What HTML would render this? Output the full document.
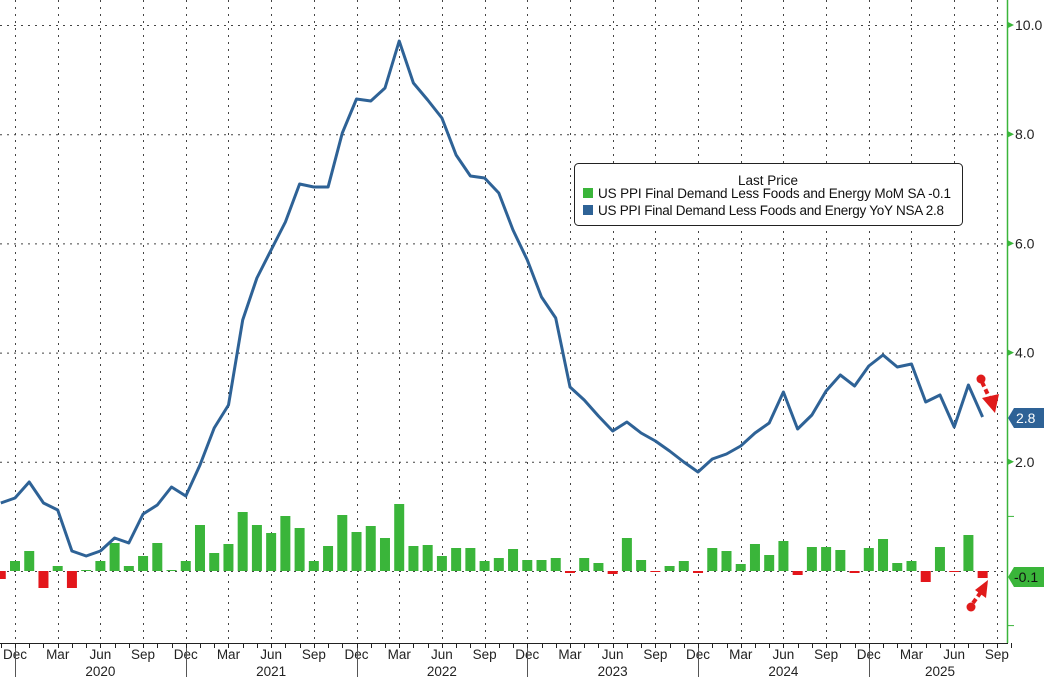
<!DOCTYPE html>
<html><head><meta charset="utf-8"><style>
html,body{margin:0;padding:0;background:#fff;}
svg{display:block;font-family:"Liberation Sans",sans-serif;}
</style></head><body>
<svg id="c" width="1044" height="677" xmlns="http://www.w3.org/2000/svg">
<rect width="1044" height="677" fill="#fff"/>
<g id="grid" stroke="#444" stroke-width="1" stroke-dasharray="2,5"></g>
<g id="bars"></g>
<polyline id="line" fill="none" stroke="#2e6296" stroke-width="3" stroke-linejoin="round"/>
<g id="ax"></g>
<!-- legend -->
<rect x="574.5" y="163.5" width="388" height="62" rx="4" fill="#fff" stroke="#222" stroke-width="1"/>
<text x="768" y="185" font-size="13.5" text-anchor="middle" fill="#111">Last Price</text>
<rect x="583" y="188" width="10" height="10" fill="#3ab53a"/>
<text x="598" y="198" font-size="13.5" fill="#111" textLength="353">US PPI Final Demand Less Foods and Energy MoM SA  -0.1</text>
<rect x="583" y="205" width="10" height="10" fill="#2e6296"/>
<text x="598" y="215" font-size="13.5" fill="#111" textLength="346">US PPI Final Demand Less Foods and Energy YoY NSA 2.8</text>
<!-- arrows -->
<g fill="#e01b1b" stroke="#e01b1b">
<circle cx="981" cy="379" r="4.5" stroke="none"/>
<line x1="982" y1="382" x2="990" y2="399" stroke-width="4" stroke-dasharray="5,3"/>
<polygon points="982,398 999,394 995,413" stroke="none"/>
<circle cx="971" cy="607" r="4.5" stroke="none"/>
<line x1="973" y1="603" x2="981" y2="592" stroke-width="4" stroke-dasharray="5,3"/>
<polygon points="975,590 988,580 986,598" stroke="none"/>
</g>
<!-- right labels -->
<polygon points="1008,418 1014,408 1044,408 1044,428 1014,428" fill="#2e6296"/>
<text x="1016" y="423" font-size="14" fill="#fff">2.8</text>
<polygon points="1008,577 1014,567 1044,567 1044,587 1014,587" fill="#3ab53a"/>
<text x="1014" y="582" font-size="14" fill="#111">-0.1</text>
</svg>
<script>
var ns="http://www.w3.org/2000/svg";
function el(p,t,a,txt){var e=document.createElementNS(ns,t);for(var k in a)e.setAttribute(k,a[k]);if(txt)e.textContent=txt;document.getElementById(p).appendChild(e);return e;}
function X(i){return 15+(i-1)*14.23;}
var Y0=571,U=54.6;
[10,8,6,4,2,0].forEach(function(v){var y=Y0-v*U;el("grid","line",{x1:0,x2:1006,y1:y+.5,y2:y+.5});});
for(var q=1;q<=70;q+=3){var x=Math.round(X(q))+.5;el("grid","line",{x1:x,x2:x,y1:0,y2:643});}
var bt=[579,561,551,588,566,588,570,561,543,566,556,543,570,561,525,553,544,512,525,533,516,528,561,546,515,532,526,538,504,546,545,556,548,548,561,558,549,560,560,558,573,558,563,574,538,560,572,566,561,573,548,551,564,544,555,541,575,547,547,550,573,548,539,563,561,582,547,572,535,578];
bt.forEach(function(t,i){var x=X(i)-5;var pos=t<Y0;var y=pos?t:Y0;var h=Math.abs(t-Y0);if(h<1)h=1;el("bars","rect",{x:x,y:y,width:10,height:h,fill:pos?"#3ab53a":"#e3161b"});});
var ly=[503,498,482,503,510,551,556,551,538,543,514,505,487,496,465,428,405,320,278,250,222,184,187,187,133,99,101,88,41,83,100,118,155,176,178,193,230,260,297,318,387,400,416,431,422,433,441,451,462,472,459,454,446,433,423,392,429,415,391,375,386,366,355,367,364,402,395,427,385,417];
document.getElementById("line").setAttribute("points",ly.map(function(y,i){return X(i).toFixed(1)+","+y;}).join(" "));
el("ax","line",{x1:1007.5,x2:1007.5,y1:0,y2:643,stroke:"#3ab53a","stroke-width":1.5});
el("ax","line",{x1:0,x2:1008,y1:643.5,y2:643.5,stroke:"#222","stroke-width":1});
for(var i=0;i<=71;i++){var x=Math.round(X(i))+.5;el("ax","line",{x1:x,x2:x,y1:643,y2:648,stroke:"#222"});}
[10,8,6,4,2].forEach(function(v){var y=Y0-v*U;el("ax","polygon",{points:"1008,"+(y-3)+" 1014,"+y+" 1008,"+(y+3),fill:"#3ab53a"});el("ax","text",{x:1015,y:y+5,"font-size":14,fill:"#222"},v.toFixed(1));});
[1,-1].forEach(function(v){var y=Y0-v*U;el("ax","line",{x1:1008,x2:1014,y1:y,y2:y,stroke:"#3ab53a"});});
var mn=["Dec","Mar","Jun","Sep"];
for(var q=1,k=0;q<=70;q+=3,k++){el("ax","text",{x:X(q),y:659,"font-size":13.5,fill:"#222","text-anchor":"middle"},mn[k%4]);}
[2020,2021,2022,2023,2024,2025].forEach(function(yr,j){var xd=Math.round(X(1+12*j))+.5;el("ax","line",{x1:xd,x2:xd,y1:648,y2:677,stroke:"#555"});var xc=j<5?X(7+12*j):940;el("ax","text",{x:xc,y:676,"font-size":13.5,fill:"#222","text-anchor":"middle"},String(yr));});
</script>
</body></html>
